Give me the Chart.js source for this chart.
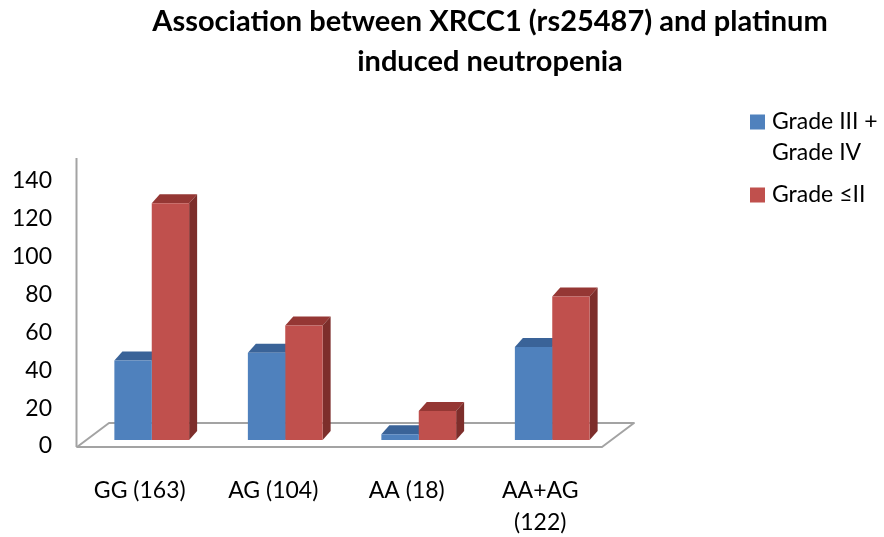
<!DOCTYPE html>
<html>
<head>
<meta charset="utf-8">
<script src="https://cdn.jsdelivr.net/npm/chart.js@4/dist/chart.umd.min.js"></script>
<style>
  html, body { margin: 0; padding: 0; background: #fff; }
  #wrap { width: 884px; height: 537px; }
</style>
</head>
<body>
<div id="wrap"><canvas id="c" width="884" height="537"></canvas></div>
<script>
// Genotype groups (patient counts in brackets)
const categories = [['GG (163)'], ['AG (104)'], ['AA (18)'], ['AA+AG', '(122)']];
// Number of patients per neutropenia grade
const gradeHigh = [41, 45, 3, 48];     // Grade III + Grade IV
const gradeLow  = [122, 59, 15, 74];   // Grade <= II
const seriesNames = [['Grade III +', 'Grade IV'], 'Grade \u2264II'];
const titleLines = ['Association between XRCC1 (rs25487) and platinum', 'induced neutropenia'];
const yTickStep = 20;
const yTickMax = 140;

// Face colours of the 3-D columns: front, top, side
const palette = [
  { front: '#4F81BD', top: '#3A6398', side: '#345884' },
  { front: '#C0504D', top: '#953734', side: '#7D2E2B' }
];

const DEPTH = { dx: 8, dy: 9 };          // column depth
const FLOOR = { dx: 32, dy: 24 };        // floor depth
const AXIS_GREY = '#a3a3a3';
const FONT = 'Lato';

// Floor, axis line and the hidden faces (top + side) of each column
const columns3d = {
  id: 'columns3d',
  beforeDatasetsDraw(chart) {
    const ctx = chart.ctx;
    const area = chart.chartArea;
    const yFront = chart.scales.y.getPixelForValue(0) + 1;
    const fl = area.left - 8, fr = area.right - 17;
    ctx.save();
    ctx.beginPath();
    ctx.moveTo(fl, yFront);
    ctx.lineTo(fr, yFront);
    ctx.lineTo(fr + FLOOR.dx, yFront - FLOOR.dy);
    ctx.lineTo(fl + FLOOR.dx, yFront - FLOOR.dy);
    ctx.closePath();
    ctx.fillStyle = '#ffffff';
    ctx.fill();
    ctx.lineWidth = 2;
    ctx.strokeStyle = AXIS_GREY;
    ctx.lineJoin = 'round';
    ctx.stroke();
    ctx.beginPath();
    ctx.moveTo(fl - 0.5, area.top);
    ctx.lineTo(fl - 0.5, yFront);
    ctx.stroke();

    chart.data.datasets.forEach((ds, i) => {
      const col = palette[i];
      chart.getDatasetMeta(i).data.forEach(bar => {
        const p = bar.getProps(['x', 'y', 'base', 'width'], true);
        const l = p.x - p.width / 2, r = p.x + p.width / 2;
        ctx.fillStyle = col.top;
        ctx.beginPath();
        ctx.moveTo(l, p.y);
        ctx.lineTo(l + DEPTH.dx, p.y - DEPTH.dy);
        ctx.lineTo(r + DEPTH.dx, p.y - DEPTH.dy);
        ctx.lineTo(r, p.y);
        ctx.closePath();
        ctx.fill();
        ctx.fillStyle = col.side;
        ctx.beginPath();
        ctx.moveTo(r, p.y);
        ctx.lineTo(r + DEPTH.dx, p.y - DEPTH.dy);
        ctx.lineTo(r + DEPTH.dx, p.base - DEPTH.dy);
        ctx.lineTo(r, p.base);
        ctx.closePath();
        ctx.fill();
      });
    });
    ctx.restore();
  }
};

// Title is centred over the plot plus legend region
const titleShift = {
  id: 'titleShift',
  afterLayout(chart) {
    const tb = chart.titleBlock;
    if (tb) { tb.left = 96; tb.right = chart.width; }
  }
};

// Legend at the upper right, with wrapped first entry
const sideLegend = {
  id: 'sideLegend',
  afterDraw(chart) {
    const ctx = chart.ctx;
    const x0 = chart.width - 134;
    let yc = chart.chartArea.top - 36;
    const lineGap = 31;
    ctx.save();
    ctx.font = '23px ' + FONT;
    ctx.textBaseline = 'middle';
    ctx.textAlign = 'left';
    chart.data.datasets.forEach((ds, i) => {
      const lines = Array.isArray(ds.label) ? ds.label : [ds.label];
      ctx.fillStyle = palette[i].front;
      ctx.fillRect(x0, yc - 7.5, 15, 15);
      ctx.fillStyle = '#000';
      lines.forEach((t, k) => ctx.fillText(t, x0 + 22, yc + k * lineGap));
      yc += lines.length * lineGap + 11;
    });
    ctx.restore();
  }
};

new Chart(document.getElementById('c'), {
  type: 'bar',
  data: {
    labels: categories,
    datasets: [
      { label: seriesNames[0], data: gradeHigh, backgroundColor: palette[0].front, borderWidth: 0, yAxisID: 'yDepth' },
      { label: seriesNames[1], data: gradeLow, backgroundColor: palette[1].front, borderWidth: 0, yAxisID: 'yDepth' }
    ]
  },
  options: {
    responsive: false,
    animation: false,
    layout: { padding: { left: 4, right: 265, top: 0, bottom: 0 } },
    datasets: { bar: { categoryPercentage: 0.56, barPercentage: 1.0 } },
    plugins: {
      legend: { display: false },
      tooltip: { enabled: false },
      title: {
        display: true,
        text: titleLines,
        color: '#000',
        font: { family: FONT, size: 29, weight: 'bold', lineHeight: 40 / 29 },
        padding: { top: 2, bottom: 76 }
      }
    },
    scales: {
      x: {
        grid: { display: false, drawTicks: false },
        border: { display: false },
        ticks: { color: '#000', font: { family: FONT, size: 23, lineHeight: 32 / 23 }, padding: 29, labelOffset: -12, maxRotation: 0, autoSkip: false },
        afterFit(s) { s.height = 91; }
      },
      // front-edge value scale carrying the labels
      y: {
        position: 'left',
        min: 0,
        max: 152.1,
        grid: { display: false, drawTicks: false },
        border: { display: false },
        ticks: {
          stepSize: yTickStep,
          includeBounds: false,
          color: '#000',
          font: { family: FONT, size: 23 },
          padding: 33,
          callback: v => (v % yTickStep === 0 && v <= yTickMax) ? String(v) : ''
        },
        afterFit(s) { s.width = 81; }
      },
      // the same values measured at the columns' depth
      yDepth: { display: false, min: -3.09, max: 145.36 }
    }
  },
  plugins: [columns3d, titleShift, sideLegend]
});
</script>
</body>
</html>
